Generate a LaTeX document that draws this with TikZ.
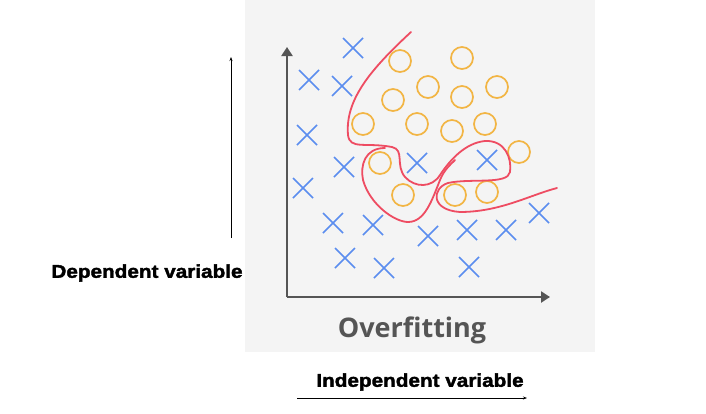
\documentclass[tikz,border=0pt]{standalone}
\usepackage{fontspec}
\setmainfont{Liberation Sans}
\newfontfamily\osans{Open Sans}
\newfontfamily\lblfont[FakeBold=2,FakeStretch=1.12]{Liberation Sans Bold}
\usetikzlibrary{arrows.meta}
\definecolor{panel}{HTML}{F4F4F4}
\definecolor{axisg}{HTML}{555555}
\definecolor{xblue}{HTML}{5B8DEF}
\definecolor{corange}{HTML}{F2B544}
\definecolor{cred}{HTML}{EE4C62}
\tikzset{
  xm/.style={xblue,line width=1.7pt},
  om/.style={corange,line width=1.7pt},
  fitline/.style={cred,line width=1.8pt,line cap=round},
  axisl/.style={axisg,line width=2.2pt,-{Triangle[length=9pt,width=11pt]}},
  thinarr/.style={black,line width=0.6pt,-{Stealth[length=4pt,width=3pt]}},
  lbl/.style={font=\lblfont\fontsize{18.5}{20}\selectfont}
}
\begin{document}
\begin{tikzpicture}[x=1pt,y=-1pt]
\useasboundingbox (0,0) rectangle (706,413);
\fill[panel] (245,0) rectangle (595,352);
\coordinate (o) at (287,297);
\coordinate (yt) at (287,47);
\coordinate (xt) at (550,297);
\draw[axisl] (o) -- (yt);
\draw[axisl] (o) -- (xt);
\foreach \x/\y in {353/48,309/80,342/86,307/135,344/167,303/188,333/223,373/225,428/236,467/230,506/230,539/213,345/258,384/268,469/267,417/163,487/160}
  \draw[xm] (\x-10,\y-10) -- (\x+10,\y+10) (\x-10,\y+10) -- (\x+10,\y-10);
\foreach \x/\y in {400/61,462/58,428/87,393/100,462/97,497/87,363/124,417/124,452/131,485/124,519/152,380/163,403/195,455/195,487/192}
  \draw[om] (\x,\y) circle (11);
\draw[fitline] (411,32) .. controls (370,70) and (345,100) .. (348,135)
  .. controls (350,150) and (365,142) .. (392,147)
  .. controls (405,150) and (395,165) .. (405,177)
  .. controls (415,188) and (432,188) .. (440,175)
  .. controls (450,160) and (465,143) .. (485,141)
  .. controls (505,140) and (512,158) .. (510,172)
  .. controls (508,185) and (470,178) .. (448,183)
  .. controls (432,188) and (430,210) .. (460,212)
  .. controls (500,212) and (530,195) .. (557,188);
\draw[fitline] (385,148) .. controls (365,148) and (360,165) .. (363,180)
  .. controls (370,205) and (395,222) .. (408,222)
  .. controls (425,222) and (432,200) .. (440,180)
  .. controls (444,170) and (450,165) .. (455,160);
\node[font=\osans\bfseries\fontsize{27}{30}\selectfont,text=axisg] (t) at (412,330) {Overfitting};
\node[lbl] (dv) at (147,273) {Dependent variable};
\node[lbl] (iv) at (420,382) {Independent variable};
\coordinate (va) at (231,238); \coordinate (vb) at (231,57);
\coordinate (ha) at (297,398); \coordinate (hb) at (527,398);
\draw[thinarr] (va) -- (vb);
\draw[thinarr] (ha) -- (hb);
\end{tikzpicture}
\end{document}
